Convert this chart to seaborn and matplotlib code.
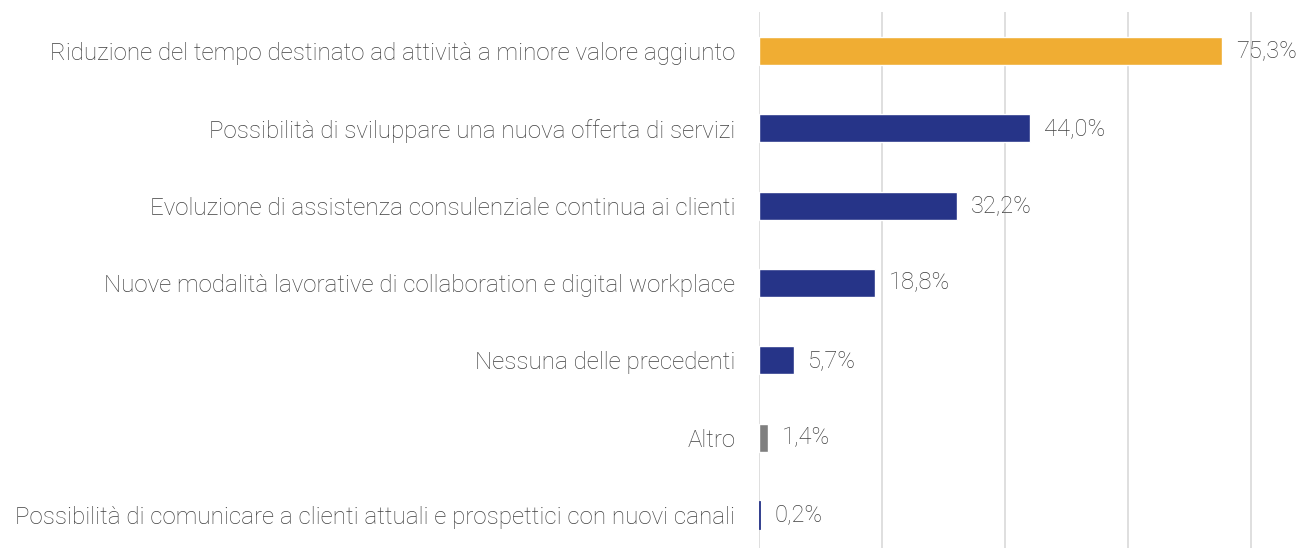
import seaborn as sns
import matplotlib.pyplot as plt
import pandas as pd

# Data
categories = [
    "Riduzione del tempo destinato ad attività a minore valore aggiunto",
    "Possibilità di sviluppare una nuova offerta di servizi",
    "Evoluzione di assistenza consulenziale continua ai clienti",
    "Nuove modalità lavorative di collaboration e digital workplace",
    "Nessuna delle precedenti",
    "Altro",
    "Possibilità di comunicare a clienti attuali e prospettici con nuovi canali",
]
values = [75.3, 44.0, 32.2, 18.8, 5.7, 1.4, 0.2]
colors = ["#F0AD33", "#263488", "#263488", "#263488", "#263488", "#7F7F7F", "#263488"]

df = pd.DataFrame({"cat": categories, "val": values})

sns.set_style("white")
plt.rcParams["font.family"] = ["Roboto", "DejaVu Sans"]

fig = plt.figure(figsize=(13.03, 5.48), dpi=100)
ax = fig.add_axes([759 / 1303, -0.0103, 541 / 1303, 0.988])

sns.barplot(data=df, x="val", y="cat", hue="cat", palette=colors, legend=False,
            width=0.36, ax=ax, saturation=1)

# the tiny 0.2% bar needs an outline to show up at all
for p in ax.patches:
    if p.get_width() < 1:
        p.set_edgecolor(p.get_facecolor())
        p.set_linewidth(0.6)

ax.set_xlim(0, 88)
ax.set_ylim(6.5, -0.5)
ax.set_xticks([0, 20, 40, 60, 80])
ax.xaxis.grid(True, color="#D9D9D9", linewidth=1.2)
ax.set_axisbelow(True)
ax.tick_params(axis="x", bottom=False, labelbottom=False)
ax.tick_params(axis="y", left=False, pad=13.5)
for s in ax.spines.values():
    s.set_visible(False)
ax.set_xlabel("")
ax.set_ylabel("")
for lbl in ax.get_yticklabels():
    lbl.set_fontsize(17.4)
    lbl.set_color("#404040")
    lbl.set_fontweight("light")

for i, v in enumerate(values):
    ax.text(v + 2.3, i, f"{v:.1f}%".replace(".", ","), va="center", ha="left",
            fontsize=17, color="#404040", fontweight="light")

fig.savefig("out.png", dpi=100)
